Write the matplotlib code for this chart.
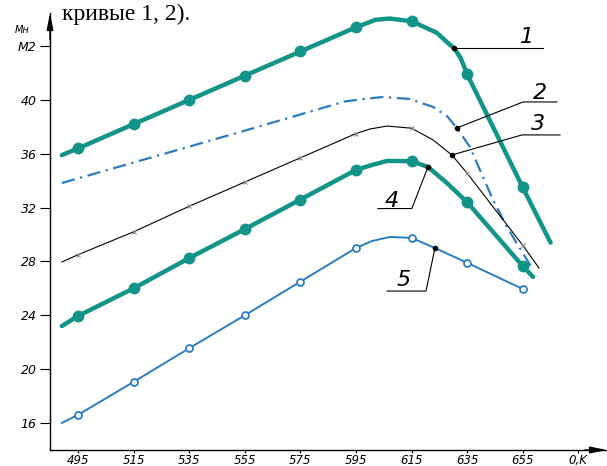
import matplotlib
matplotlib.use("Agg")
import matplotlib.pyplot as plt

# ---------------- data ----------------
temps = [495, 515, 535, 555, 575, 595, 615, 635, 655]
x_tick_labels = ["495", "515", "535", "555", "575", "595", "615", "635", "655", "0,K"]
x_tick_pos = [495, 515, 535, 555, 575, 595, 615, 635, 655, 675]
y_tick_pos = [16, 20, 24, 28, 32, 36, 40, 44]
y_tick_labels = ["16", "20", "24", "28", "32", "36", "40", "M2"]

# marker values at the tick temperatures
m1 = [36.4, 38.2, 40.0, 41.8, 43.6, 45.4, 45.85, 41.9, 33.5]
m3 = [28.5, 30.2, 32.1, 33.9, 35.7, 37.5, 37.9, 34.55, 29.2]
m4 = [23.95, 26.0, 28.25, 30.4, 32.6, 34.8, 35.45, 32.4, 27.65]
m5 = [16.6, 19.05, 21.55, 24.0, 26.5, 29.0, 29.75, 27.9, 25.95]

# curve traces
x1 = [489.2, 495, 515, 535, 555, 575, 595, 602, 607, 615, 624, 628.8, 630.3, 632.7, 635, 655, 665]
y1 = [35.9, 36.4, 38.2, 40.0, 41.8, 43.6, 45.4, 45.95, 46.05, 45.85, 45.0, 44.1, 43.85, 43.1, 41.9, 33.5, 29.4]

x2 = [489.2, 515, 535, 555, 575, 591, 600, 604.7, 614.4, 622.7, 627.7, 631.3, 636, 644.3, 649.3, 658.7]
y2 = [33.83, 35.35, 36.53, 37.72, 38.92, 39.89, 40.12, 40.22, 40.07, 39.48, 38.81, 37.92, 36.5, 32.57, 30.56, 27.37]

x3 = [489.2, 495, 515, 535, 555, 575, 595, 600, 606.2, 615, 622.7, 629.5, 635, 655, 660.8]
y3 = [27.96, 28.5, 30.2, 32.1, 33.9, 35.7, 37.5, 37.84, 38.06, 37.9, 37.03, 35.91, 34.55, 29.2, 27.52]

x4 = [489.2, 495, 515, 535, 555, 575, 595, 600.8, 606.2, 615, 620.9, 627.7, 635, 655, 658.7]
y4 = [23.2, 23.95, 26.0, 28.25, 30.4, 32.6, 34.8, 35.17, 35.47, 35.45, 35.02, 33.83, 32.4, 27.65, 26.85]

x5 = [489.2, 495, 515, 535, 555, 575, 595, 600.8, 607.2, 615, 623.4, 635, 655]
y5 = [16.0, 16.6, 19.05, 21.55, 24.0, 26.5, 29.0, 29.52, 29.82, 29.75, 29.0, 27.9, 25.95]

# callouts: label, point on curve, knee, end of shelf, text position
callouts = [
    ("1", (630.3, 43.85), (630.3, 43.85), (662.3, 43.85), (656.5, 44.65)),
    ("2", (631.3, 37.92), (655.1, 39.85), (667.3, 39.85), (661.2, 40.55)),
    ("3", (629.5, 35.91), (654.7, 37.4), (668.4, 37.4), (660.5, 38.2)),
    ("4", (620.9, 35.02), (615.1, 31.93), (602.9, 31.93), (608.0, 32.5)),
    ("5", (623.4, 29.0), (620.2, 25.8), (606.2, 25.8), (612.0, 26.6)),
]

TEAL = "#139488"
BLUE = "#2a7cc4"

W, H = 607, 466
fig = plt.figure(figsize=(W / 100, H / 100), dpi=100)
ax = fig.add_axes([50 / W, 16 / H, 557 / W, 437 / H])
ax.set_xlim(484.93, 685.3)
ax.set_ylim(13.99, 46.46)

# curves
ax.plot(x1, y1, color=TEAL, lw=3.2, solid_capstyle="round", zorder=3)
ax.plot(temps, m1, ls="none", marker="o", ms=7.5, color=TEAL, zorder=4)

ax.plot(x2, y2, color=BLUE, lw=1.6, ls=(0, (6, 2.5, 1, 2.5)), zorder=3)

ax.plot(x3, y3, color="black", lw=0.8, zorder=3)
ax.plot(temps, m3, ls="none", marker="x", ms=3.5, mew=0.8, color="#909090", zorder=4)

ax.plot(x4, y4, color=TEAL, lw=3.2, solid_capstyle="round", zorder=3)
ax.plot(temps, m4, ls="none", marker="o", ms=7.5, color=TEAL, zorder=4)

ax.plot(x5, y5, color=BLUE, lw=1.4, zorder=3)
ax.plot(temps, m5, ls="none", marker="o", ms=5, mfc="white", mec=BLUE, mew=1.3, zorder=4)

# callouts
for lab, p, k, e, t in callouts:
    ax.plot([p[0], k[0], e[0]], [p[1], k[1], e[1]], color="black", lw=0.8, zorder=5, clip_on=False)
    ax.plot([p[0]], [p[1]], marker="o", ms=3, color="black", zorder=6)
    ax.text(t[0], t[1], lab, fontsize=16, style="italic", ha="center", va="center",
            family="DejaVu Sans", fontweight="light", zorder=6)

# axes styling
for s in ("top", "right"):
    ax.spines[s].set_visible(False)
for s in ("left", "bottom"):
    ax.spines[s].set_linewidth(1.0)

ax.set_xticks(x_tick_pos)
ax.set_xticklabels(x_tick_labels, style="italic", fontsize=8.5)
ax.set_yticks(y_tick_pos)
ax.set_yticklabels(y_tick_labels, style="italic", fontsize=9)
ax.tick_params(axis="y", direction="out", length=7, width=0.8, pad=2.5)
ax.tick_params(axis="x", direction="out", length=2.5, width=0.8, pad=0.3)

# arrows at axis ends
xl, xr = ax.get_xlim()
yb, yt = ax.get_ylim()
ax.annotate("", xy=(xl, yt), xytext=(xl, yt - 2.0),
            arrowprops=dict(arrowstyle="-|>,head_length=1.0,head_width=0.2", color="black",
                            lw=1.0, mutation_scale=10, shrinkA=0, shrinkB=0),
            annotation_clip=False)
ax.annotate("", xy=(xr, yb), xytext=(xr - 8, yb),
            arrowprops=dict(arrowstyle="-|>,head_length=1.0,head_width=0.2", color="black",
                            lw=1.0, mutation_scale=10, shrinkA=0, shrinkB=0),
            annotation_clip=False)

# y axis name
fig.text(22 / W, 1 - 30 / H, "Мн", fontsize=7, style="italic", ha="center", va="center")

# page text at the top
fig.text(190 / W, 1 - 20 / H, "кривые 1, 2).", fontsize=17, family="Liberation Serif",
         ha="right", va="baseline")

fig.savefig("out.png", dpi=100)
